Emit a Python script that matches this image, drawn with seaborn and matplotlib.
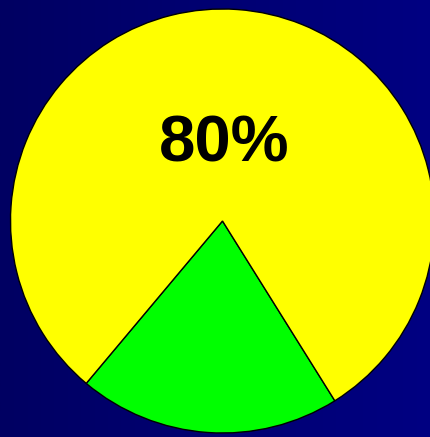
import numpy as np
import matplotlib
matplotlib.use("Agg")
import matplotlib.pyplot as plt
import seaborn as sns
from matplotlib.colors import LinearSegmentedColormap

sns.set_theme(style="white")
plt.rcParams['font.family'] = ['Liberation Sans', 'DejaVu Sans']

# Data
categories = ["Other", "Main"]
values = [20, 80]
colors = ["#00FF00", "#FFFF00"]
label_text = f"{values[1]}%"

W, H, DPI = 431, 437, 100
fig = plt.figure(figsize=(W / DPI, H / DPI), dpi=DPI)

# gradient background
bg = fig.add_axes([0, 0, 1, 1])
cmap = LinearSegmentedColormap.from_list("bg", ["#000062", "#000082"])
grad = np.linspace(0, 1, 256).reshape(1, -1)
bg.imshow(grad, aspect="auto", cmap=cmap, extent=[0, 1, 0, 1])
bg.set_axis_off()

cx, cy, r = 222.5, H - 221, 212
ax = fig.add_axes([(cx - r) / W, (cy - r) / H, 2 * r / W, 2 * r / H])
ax.set_facecolor("none")
ax.pie(values, colors=colors, startangle=230, counterclock=True,
       radius=1, center=(0, 0),
       wedgeprops=dict(edgecolor="black", linewidth=1.0))
ax.set_xlim(-1, 1)
ax.set_ylim(-1, 1)
ax.set_aspect("auto")
ax.set_axis_off()
ax.text(0.007, (221 - 162) / r, label_text, ha="center", va="baseline",
        fontsize=47, fontweight="bold", color="black")

fig.savefig("out.png", dpi=DPI)
